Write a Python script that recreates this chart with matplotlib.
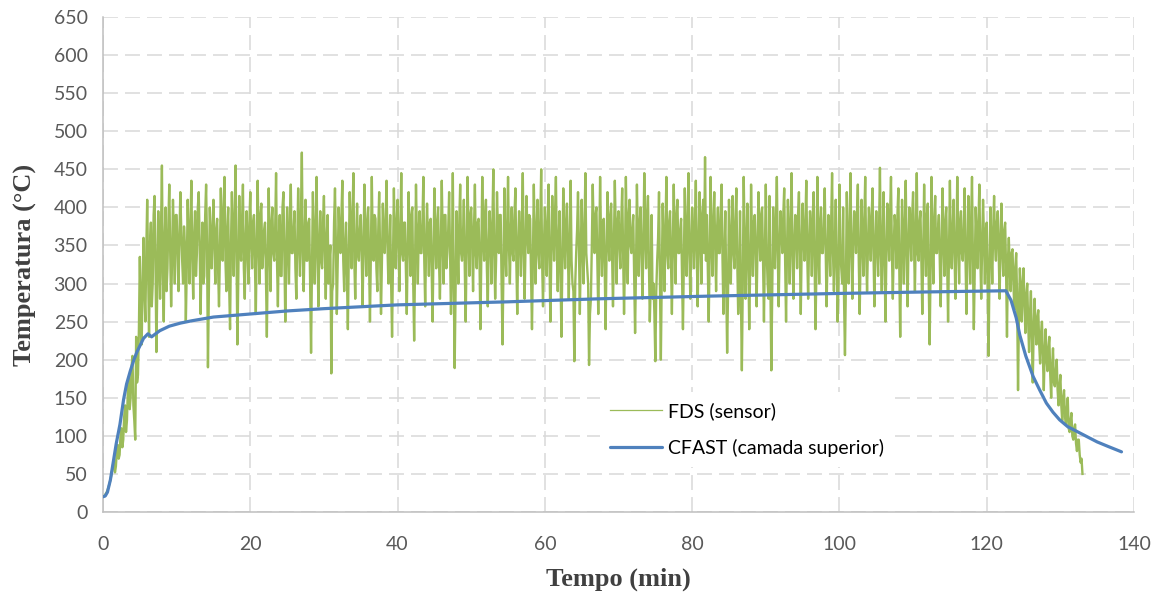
import numpy as np
import matplotlib
matplotlib.use("Agg")
import matplotlib.pyplot as plt

plt.rcParams["path.simplify"] = False  # keep every sample of the noisy signal

# FDS sensor reading, sampled every 0.125 min from t = 0 (values read off the chart)
# one row = 5 min
FDS_STEP = 0.125
fds_temp = [
    20, 21, 22, 24, 26, 29, 33, 37, 42, 48, 55, 62, 68, 52, 60, 80, 88, 70, 75, 100,
    110, 85, 95, 125, 140, 105, 120, 160, 175, 135, 150, 190, 205, 140, 120, 95, 230, 170, 180, 240,
    335, 260, 220, 300, 360, 290, 250, 340, 410, 320, 230, 350, 380, 270, 300, 390, 415, 330, 210, 300,
    395, 340, 280, 370, 455, 310, 250, 360, 400, 290, 320, 380, 430, 340, 270, 330, 410, 360, 300, 390,
    390, 340, 290, 360, 420, 370, 330, 300, 375, 350, 250, 320, 410, 350, 300, 380, 435, 330, 280, 360,
    395, 310, 340, 400, 420, 350, 260, 330, 380, 300, 310, 390, 430, 350, 190, 290, 400, 360, 320, 370,
    410, 350, 300, 370, 385, 320, 270, 340, 425, 360, 330, 400, 440, 330, 290, 370, 400, 300, 240, 350,
    420, 360, 310, 390, 455, 340, 220, 310, 415, 350, 330, 380, 430, 320, 280, 360, 395, 340, 300, 380,
    420, 350, 320, 380, 390, 330, 260, 350, 435, 360, 300, 390, 405, 320, 340, 370, 380, 310, 230, 340,
    425, 350, 290, 380, 400, 340, 330, 370, 445, 330, 270, 360, 390, 310, 310, 400, 420, 340, 250, 330,
    400, 350, 300, 380, 430, 340, 340, 370, 395, 320, 280, 350, 425, 360, 310, 390, 472, 340, 290, 360,
    410, 330, 330, 380, 385, 300, 209, 320, 420, 360, 300, 370, 440, 340, 270, 350, 395, 330, 320, 380,
    415, 340, 280, 360, 390, 300, 330, 350, 182, 290, 300, 380, 425, 350, 260, 330, 400, 360, 340, 390,
    435, 330, 290, 350, 380, 310, 240, 340, 420, 370, 320, 390, 445, 330, 280, 350, 405, 340, 330, 370,
    390, 340, 270, 350, 430, 360, 310, 380, 400, 330, 250, 340, 440, 350, 330, 390, 385, 320, 290, 370,
    420, 340, 260, 330, 405, 360, 340, 380, 435, 350, 300, 340, 390, 300, 230, 330, 425, 360, 320, 380,
    410, 350, 290, 370, 445, 340, 330, 380, 380, 320, 260, 350, 420, 360, 310, 390, 400, 300, 225, 330,
    430, 360, 300, 370, 395, 340, 340, 380, 440, 330, 270, 350, 405, 360, 310, 380, 385, 320, 250, 340,
    425, 360, 320, 380, 400, 330, 280, 350, 435, 360, 300, 390, 390, 320, 340, 370, 420, 340, 260, 330,
    445, 300, 189, 290, 395, 350, 300, 380, 430, 340, 330, 360, 410, 320, 250, 350, 440, 370, 310, 390,
    400, 350, 290, 370, 430, 340, 320, 380, 385, 330, 240, 340, 440, 360, 330, 390, 410, 320, 270, 350,
    395, 360, 300, 380, 450, 340, 280, 330, 420, 370, 340, 390, 390, 300, 220, 320, 425, 350, 310, 370,
    440, 350, 300, 370, 400, 340, 330, 390, 425, 330, 260, 350, 395, 360, 310, 380, 445, 340, 280, 350,
    415, 370, 340, 390, 385, 310, 240, 330, 430, 360, 300, 370, 410, 340, 320, 380, 450, 330, 270, 350,
    400, 360, 310, 380, 430, 330, 250, 340, 415, 370, 330, 390, 440, 340, 290, 360, 395, 310, 230, 330,
    425, 360, 320, 380, 405, 340, 280, 350, 435, 330, 300, 290, 198, 300, 340, 370, 420, 350, 260, 340,
    410, 350, 300, 370, 445, 340, 320, 300, 193, 260, 280, 350, 430, 370, 340, 390, 400, 330, 260, 340,
    440, 360, 310, 380, 385, 320, 240, 340, 420, 360, 330, 390, 405, 340, 270, 350, 435, 370, 300, 380,
    395, 350, 320, 380, 425, 340, 260, 330, 440, 360, 300, 390, 410, 350, 340, 370, 390, 310, 235, 320,
    430, 360, 310, 380, 400, 340, 280, 350, 445, 370, 320, 390, 415, 330, 250, 300, 390, 280, 300, 260,
    198, 290, 330, 360, 420, 300, 200, 310, 405, 350, 290, 370, 440, 340, 320, 380, 395, 330, 260, 350,
    430, 360, 300, 390, 410, 340, 340, 370, 385, 310, 240, 330, 425, 360, 310, 380, 445, 340, 280, 350,
    400, 360, 320, 380, 435, 340, 270, 350, 420, 370, 300, 390, 410, 340, 466, 330, 390, 320, 250, 340,
    440, 360, 310, 380, 420, 350, 290, 370, 400, 340, 340, 390, 430, 330, 260, 340, 395, 300, 209, 290,
    410, 350, 300, 370, 415, 340, 320, 380, 425, 330, 260, 300, 395, 280, 186, 300, 440, 360, 280, 350,
    405, 330, 240, 320, 430, 360, 310, 380, 390, 340, 270, 350, 420, 370, 330, 390, 400, 330, 250, 340,
    430, 340, 300, 280, 415, 300, 186, 290, 400, 350, 320, 380, 440, 340, 270, 350, 395, 370, 340, 390,
    425, 330, 250, 340, 410, 360, 300, 380, 445, 340, 280, 350, 390, 370, 320, 390, 420, 340, 260, 350,
    405, 360, 330, 380, 435, 340, 280, 350, 395, 370, 310, 390, 420, 330, 240, 320, 440, 360, 300, 380,
    400, 340, 340, 370, 425, 350, 270, 330, 390, 360, 310, 380, 445, 340, 290, 350, 410, 330, 250, 300,
    430, 340, 320, 300, 400, 280, 206, 300, 420, 350, 300, 370, 445, 340, 280, 350, 395, 370, 340, 390,
    430, 330, 260, 340, 410, 360, 310, 380, 440, 340, 290, 350, 400, 370, 330, 390, 425, 340, 270, 350,
    395, 350, 310, 370, 452, 340, 290, 360, 420, 330, 250, 340, 405, 370, 330, 390, 440, 340, 280, 350,
    390, 370, 320, 390, 425, 320, 230, 330, 410, 360, 300, 380, 435, 340, 270, 350, 400, 370, 330, 390,
    420, 350, 290, 370, 445, 340, 330, 380, 395, 330, 260, 340, 430, 360, 310, 390, 405, 300, 220, 320,
    440, 360, 300, 380, 415, 340, 340, 370, 390, 330, 270, 350, 425, 360, 310, 380, 400, 330, 250, 340,
    435, 350, 320, 370, 410, 340, 280, 350, 440, 360, 300, 380, 395, 340, 330, 370, 425, 330, 260, 340,
    415, 360, 300, 380, 440, 330, 240, 320, 400, 360, 320, 380, 430, 340, 280, 350, 410, 360, 300, 370,
    380, 300, 205, 320, 400, 350, 300, 370, 415, 350, 330, 380, 395, 340, 280, 360, 405, 340, 310, 370,
    380, 320, 230, 330, 360, 320, 290, 340, 345, 300, 265, 320, 340, 280, 160, 260, 320, 290, 250, 300,
    320, 270, 235, 285, 300, 250, 210, 260, 290, 230, 170, 240, 280, 245, 220, 255, 265, 220, 195, 235,
    250, 205, 160, 210, 240, 200, 185, 215, 230, 180, 150, 190, 215, 170, 165, 185, 200, 160, 140, 165,
    180, 140, 120, 150, 160, 125, 115, 135, 150, 110, 105, 120, 130, 100, 95, 110, 115, 90, 80, 95,
    95, 75, 65, 70, 50,
]
fds_time = np.arange(len(fds_temp)) * FDS_STEP

# CFAST upper layer temperature
cfast_time = [0, 0.3, 0.6, 1.0, 1.4, 1.8, 2.3, 2.8, 3.2, 3.7, 4.2, 4.6, 5.0, 5.5, 6.1, 6.6,
              7.0, 7.7, 9, 10.5, 12, 15, 20, 25, 30, 40, 55, 67.5, 82.4, 100, 112, 122.6,
              123.3, 124, 124.5, 125.3, 126.3, 127.2, 128.1, 129, 129.9, 131, 132.6, 134,
              135, 136.5, 138.3]
cfast_temp = [20, 21, 26, 42, 66, 90, 115, 148, 168, 185, 200, 210, 218, 228, 234, 230,
              233, 238, 244, 248, 251, 256, 260, 264, 267, 272, 276, 280, 283.5, 287, 289, 290.5,
              278, 255, 232, 205, 178, 160, 143, 131, 121, 112, 104, 97,
              92, 86, 79]

fig = plt.figure(figsize=(11.6, 6.01), dpi=100)
ax = fig.add_axes([0.0888, 0.1481, 0.8888, 0.8236])

ax.plot(fds_time, fds_temp, color="#9BBB59", lw=1.7, label="FDS (sensor)", zorder=2)
ax.plot(cfast_time, cfast_temp, color="#4F81BD", lw=2.3, label="CFAST (camada superior)",
        zorder=3, solid_capstyle="round")

ax.set_xlim(0, 140)
ax.set_ylim(0, 650)
ax.set_xticks(np.arange(0, 141, 20))
ax.set_yticks(np.arange(0, 651, 50))

grid_kw = dict(color="#D9D9D9", lw=1.1, ls=(0, (9.8, 4.6)))
ax.grid(True, **grid_kw)
ax.set_axisbelow(True)

for side in ["top", "right"]:
    ax.spines[side].set_visible(False)
for side in ["left", "bottom"]:
    ax.spines[side].set_color("#BFBFBF")
    ax.spines[side].set_linewidth(1.1)

ax.tick_params(axis="both", length=0, labelsize=14, labelcolor="#595959")
ax.tick_params(axis="x", pad=17)
ax.tick_params(axis="y", pad=11)
for lbl in ax.get_xticklabels() + ax.get_yticklabels():
    lbl.set_family("Lato")

title_font = dict(family="Liberation Serif", weight="bold", size=19, color="#404040")
ax.set_xlabel("Tempo (min)", labelpad=11, **title_font)
ax.set_ylabel("Temperatura (°C)", labelpad=12, **title_font)

leg = ax.legend(loc="center left", bbox_to_anchor=(0.482, 0.1667), borderaxespad=0,
                borderpad=0.5, handlelength=2.7, handletextpad=0.3, labelspacing=1.0,
                frameon=True, fancybox=False, prop=dict(family="Lato", size=14))
leg.get_frame().set_facecolor("white")
leg.get_frame().set_edgecolor("none")
leg.get_frame().set_alpha(1)
leg.get_lines()[0].set_linewidth(0.9)
for txt in leg.get_texts():
    txt.set_color("#000000")

fig.savefig("out.png", dpi=100)
